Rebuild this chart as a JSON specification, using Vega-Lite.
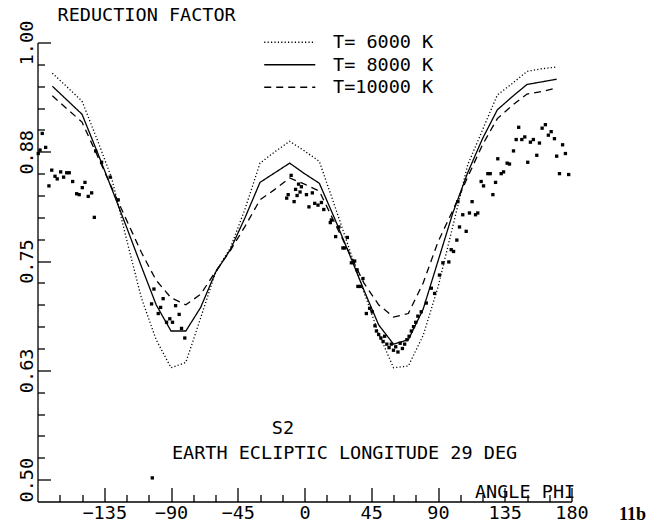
{
  "$schema": "https://vega.github.io/schema/vega-lite/v6.json",
  "width": 534,
  "height": 459,
  "autosize": "none",
  "padding": {"left": 37.5, "top": 42.5, "right": 86.5, "bottom": 23.5},
  "background": "white",
  "config": {
    "view": {"stroke": null},
    "font": "DejaVu Sans Mono",
    "axis": {"domainColor": "black", "tickColor": "black", "domainWidth": 1.3, "tickWidth": 1.3, "zindex": 1, "grid": false, "labelColor": "black", "title": null}
  },
  "resolve": {"axis": {"x": "independent", "y": "independent"}},
  "data": {
    "values": [
      {"kind": "curve", "T": "T= 6000 K", "phi": -170, "f": 0.965}, {"kind": "curve", "T": "T= 6000 K", "phi": -160, "f": 0.949}, {"kind": "curve", "T": "T= 6000 K", "phi": -150, "f": 0.933}, {"kind": "curve", "T": "T= 6000 K", "phi": -140, "f": 0.890}, {"kind": "curve", "T": "T= 6000 K", "phi": -130, "f": 0.845}, {"kind": "curve", "T": "T= 6000 K", "phi": -120, "f": 0.775}, {"kind": "curve", "T": "T= 6000 K", "phi": -110, "f": 0.708}, {"kind": "curve", "T": "T= 6000 K", "phi": -100, "f": 0.660}, {"kind": "curve", "T": "T= 6000 K", "phi": -90, "f": 0.628}, {"kind": "curve", "T": "T= 6000 K", "phi": -80, "f": 0.634}, {"kind": "curve", "T": "T= 6000 K", "phi": -70, "f": 0.685}, {"kind": "curve", "T": "T= 6000 K", "phi": -60, "f": 0.737}, {"kind": "curve", "T": "T= 6000 K", "phi": -50, "f": 0.765}, {"kind": "curve", "T": "T= 6000 K", "phi": -40, "f": 0.810}, {"kind": "curve", "T": "T= 6000 K", "phi": -30, "f": 0.862}, {"kind": "curve", "T": "T= 6000 K", "phi": -20, "f": 0.875}, {"kind": "curve", "T": "T= 6000 K", "phi": -10, "f": 0.887}, {"kind": "curve", "T": "T= 6000 K", "phi": 0, "f": 0.876}, {"kind": "curve", "T": "T= 6000 K", "phi": 10, "f": 0.864}, {"kind": "curve", "T": "T= 6000 K", "phi": 20, "f": 0.815}, {"kind": "curve", "T": "T= 6000 K", "phi": 30, "f": 0.765}, {"kind": "curve", "T": "T= 6000 K", "phi": 40, "f": 0.715}, {"kind": "curve", "T": "T= 6000 K", "phi": 50, "f": 0.667}, {"kind": "curve", "T": "T= 6000 K", "phi": 60, "f": 0.628}, {"kind": "curve", "T": "T= 6000 K", "phi": 70, "f": 0.630}, {"kind": "curve", "T": "T= 6000 K", "phi": 80, "f": 0.665}, {"kind": "curve", "T": "T= 6000 K", "phi": 90, "f": 0.720}, {"kind": "curve", "T": "T= 6000 K", "phi": 100, "f": 0.790}, {"kind": "curve", "T": "T= 6000 K", "phi": 110, "f": 0.860}, {"kind": "curve", "T": "T= 6000 K", "phi": 120, "f": 0.900}, {"kind": "curve", "T": "T= 6000 K", "phi": 130, "f": 0.940}, {"kind": "curve", "T": "T= 6000 K", "phi": 140, "f": 0.953}, {"kind": "curve", "T": "T= 6000 K", "phi": 150, "f": 0.967}, {"kind": "curve", "T": "T= 6000 K", "phi": 160, "f": 0.970}, {"kind": "curve", "T": "T= 6000 K", "phi": 170, "f": 0.972},
      {"kind": "curve", "T": "T= 8000 K", "phi": -170, "f": 0.950}, {"kind": "curve", "T": "T= 8000 K", "phi": -160, "f": 0.934}, {"kind": "curve", "T": "T= 8000 K", "phi": -150, "f": 0.918}, {"kind": "curve", "T": "T= 8000 K", "phi": -140, "f": 0.876}, {"kind": "curve", "T": "T= 8000 K", "phi": -130, "f": 0.833}, {"kind": "curve", "T": "T= 8000 K", "phi": -120, "f": 0.789}, {"kind": "curve", "T": "T= 8000 K", "phi": -110, "f": 0.744}, {"kind": "curve", "T": "T= 8000 K", "phi": -100, "f": 0.700}, {"kind": "curve", "T": "T= 8000 K", "phi": -90, "f": 0.670}, {"kind": "curve", "T": "T= 8000 K", "phi": -80, "f": 0.670}, {"kind": "curve", "T": "T= 8000 K", "phi": -70, "f": 0.697}, {"kind": "curve", "T": "T= 8000 K", "phi": -60, "f": 0.737}, {"kind": "curve", "T": "T= 8000 K", "phi": -50, "f": 0.763}, {"kind": "curve", "T": "T= 8000 K", "phi": -40, "f": 0.800}, {"kind": "curve", "T": "T= 8000 K", "phi": -30, "f": 0.840}, {"kind": "curve", "T": "T= 8000 K", "phi": -20, "f": 0.851}, {"kind": "curve", "T": "T= 8000 K", "phi": -10, "f": 0.862}, {"kind": "curve", "T": "T= 8000 K", "phi": 0, "f": 0.850}, {"kind": "curve", "T": "T= 8000 K", "phi": 10, "f": 0.839}, {"kind": "curve", "T": "T= 8000 K", "phi": 20, "f": 0.800}, {"kind": "curve", "T": "T= 8000 K", "phi": 30, "f": 0.759}, {"kind": "curve", "T": "T= 8000 K", "phi": 40, "f": 0.717}, {"kind": "curve", "T": "T= 8000 K", "phi": 50, "f": 0.677}, {"kind": "curve", "T": "T= 8000 K", "phi": 60, "f": 0.655}, {"kind": "curve", "T": "T= 8000 K", "phi": 70, "f": 0.660}, {"kind": "curve", "T": "T= 8000 K", "phi": 80, "f": 0.695}, {"kind": "curve", "T": "T= 8000 K", "phi": 90, "f": 0.750}, {"kind": "curve", "T": "T= 8000 K", "phi": 100, "f": 0.805}, {"kind": "curve", "T": "T= 8000 K", "phi": 110, "f": 0.851}, {"kind": "curve", "T": "T= 8000 K", "phi": 120, "f": 0.890}, {"kind": "curve", "T": "T= 8000 K", "phi": 130, "f": 0.923}, {"kind": "curve", "T": "T= 8000 K", "phi": 140, "f": 0.938}, {"kind": "curve", "T": "T= 8000 K", "phi": 150, "f": 0.952}, {"kind": "curve", "T": "T= 8000 K", "phi": 160, "f": 0.955}, {"kind": "curve", "T": "T= 8000 K", "phi": 170, "f": 0.958},
      {"kind": "curve", "T": "T=10000 K", "phi": -170, "f": 0.939}, {"kind": "curve", "T": "T=10000 K", "phi": -160, "f": 0.924}, {"kind": "curve", "T": "T=10000 K", "phi": -150, "f": 0.909}, {"kind": "curve", "T": "T=10000 K", "phi": -140, "f": 0.872}, {"kind": "curve", "T": "T=10000 K", "phi": -130, "f": 0.834}, {"kind": "curve", "T": "T=10000 K", "phi": -120, "f": 0.797}, {"kind": "curve", "T": "T=10000 K", "phi": -110, "f": 0.760}, {"kind": "curve", "T": "T=10000 K", "phi": -100, "f": 0.728}, {"kind": "curve", "T": "T=10000 K", "phi": -90, "f": 0.708}, {"kind": "curve", "T": "T=10000 K", "phi": -80, "f": 0.700}, {"kind": "curve", "T": "T=10000 K", "phi": -70, "f": 0.712}, {"kind": "curve", "T": "T=10000 K", "phi": -60, "f": 0.738}, {"kind": "curve", "T": "T=10000 K", "phi": -50, "f": 0.762}, {"kind": "curve", "T": "T=10000 K", "phi": -40, "f": 0.790}, {"kind": "curve", "T": "T=10000 K", "phi": -30, "f": 0.820}, {"kind": "curve", "T": "T=10000 K", "phi": -20, "f": 0.832}, {"kind": "curve", "T": "T=10000 K", "phi": -10, "f": 0.845}, {"kind": "curve", "T": "T=10000 K", "phi": 0, "f": 0.838}, {"kind": "curve", "T": "T=10000 K", "phi": 10, "f": 0.830}, {"kind": "curve", "T": "T=10000 K", "phi": 20, "f": 0.795}, {"kind": "curve", "T": "T=10000 K", "phi": 30, "f": 0.760}, {"kind": "curve", "T": "T=10000 K", "phi": 40, "f": 0.725}, {"kind": "curve", "T": "T=10000 K", "phi": 50, "f": 0.700}, {"kind": "curve", "T": "T=10000 K", "phi": 60, "f": 0.686}, {"kind": "curve", "T": "T=10000 K", "phi": 70, "f": 0.690}, {"kind": "curve", "T": "T=10000 K", "phi": 80, "f": 0.725}, {"kind": "curve", "T": "T=10000 K", "phi": 90, "f": 0.772}, {"kind": "curve", "T": "T=10000 K", "phi": 100, "f": 0.808}, {"kind": "curve", "T": "T=10000 K", "phi": 110, "f": 0.846}, {"kind": "curve", "T": "T=10000 K", "phi": 120, "f": 0.883}, {"kind": "curve", "T": "T=10000 K", "phi": 130, "f": 0.913}, {"kind": "curve", "T": "T=10000 K", "phi": 140, "f": 0.928}, {"kind": "curve", "T": "T=10000 K", "phi": 150, "f": 0.941}, {"kind": "curve", "T": "T=10000 K", "phi": 160, "f": 0.944}, {"kind": "curve", "T": "T=10000 K", "phi": 170, "f": 0.948},
      {"kind": "obs", "phi": -179.5, "f": 0.873}, {"kind": "obs", "phi": -178.3, "f": 0.877}, {"kind": "obs", "phi": -176.8, "f": 0.896}, {"kind": "obs", "phi": -174.5, "f": 0.880}, {"kind": "obs", "phi": -172.3, "f": 0.836}, {"kind": "obs", "phi": -170.4, "f": 0.854}, {"kind": "obs", "phi": -168.2, "f": 0.847}, {"kind": "obs", "phi": -166.7, "f": 0.844}, {"kind": "obs", "phi": -164.4, "f": 0.852}, {"kind": "obs", "phi": -162.4, "f": 0.846}, {"kind": "obs", "phi": -160.3, "f": 0.851}, {"kind": "obs", "phi": -158.6, "f": 0.851}, {"kind": "obs", "phi": -156.3, "f": 0.841}, {"kind": "obs", "phi": -153.6, "f": 0.827}, {"kind": "obs", "phi": -151.9, "f": 0.826}, {"kind": "obs", "phi": -149.8, "f": 0.834}, {"kind": "obs", "phi": -148.0, "f": 0.840}, {"kind": "obs", "phi": -145.8, "f": 0.824}, {"kind": "obs", "phi": -143.5, "f": 0.828}, {"kind": "obs", "phi": -141.7, "f": 0.800}, {"kind": "obs", "phi": -140.8, "f": 0.876}, {"kind": "obs", "phi": -136.8, "f": 0.863}, {"kind": "obs", "phi": -131.0, "f": 0.846}, {"kind": "obs", "phi": -125.6, "f": 0.820},
      {"kind": "obs", "phi": -103.1, "f": 0.701}, {"kind": "obs", "phi": -101.5, "f": 0.718}, {"kind": "obs", "phi": -98.6, "f": 0.690}, {"kind": "obs", "phi": -97.0, "f": 0.697}, {"kind": "obs", "phi": -95.3, "f": 0.707}, {"kind": "obs", "phi": -93.0, "f": 0.680}, {"kind": "obs", "phi": -90.8, "f": 0.684}, {"kind": "obs", "phi": -89.0, "f": 0.680}, {"kind": "obs", "phi": -86.9, "f": 0.699}, {"kind": "obs", "phi": -84.5, "f": 0.689}, {"kind": "obs", "phi": -82.9, "f": 0.673}, {"kind": "obs", "phi": -80.7, "f": 0.662}, {"kind": "obs", "phi": -102.6, "f": 0.502},
      {"kind": "obs", "phi": -12.0, "f": 0.822}, {"kind": "obs", "phi": -11.0, "f": 0.826}, {"kind": "obs", "phi": -9.0, "f": 0.848}, {"kind": "obs", "phi": -7.0, "f": 0.818}, {"kind": "obs", "phi": -6.0, "f": 0.832}, {"kind": "obs", "phi": -5.0, "f": 0.825}, {"kind": "obs", "phi": -4.0, "f": 0.838}, {"kind": "obs", "phi": -3.0, "f": 0.829},
      {"kind": "obs", "phi": -2.1, "f": 0.835}, {"kind": "obs", "phi": 1.3, "f": 0.826}, {"kind": "obs", "phi": 3.0, "f": 0.812}, {"kind": "obs", "phi": 5.3, "f": 0.828}, {"kind": "obs", "phi": 6.9, "f": 0.816}, {"kind": "obs", "phi": 9.1, "f": 0.814}, {"kind": "obs", "phi": 11.4, "f": 0.817}, {"kind": "obs", "phi": 13.0, "f": 0.809}, {"kind": "obs", "phi": 17.4, "f": 0.794}, {"kind": "obs", "phi": 18.1, "f": 0.797}, {"kind": "obs", "phi": 21.0, "f": 0.778}, {"kind": "obs", "phi": 23.2, "f": 0.789}, {"kind": "obs", "phi": 25.9, "f": 0.765}, {"kind": "obs", "phi": 27.0, "f": 0.765}, {"kind": "obs", "phi": 28.9, "f": 0.777}, {"kind": "obs", "phi": 31.6, "f": 0.748}, {"kind": "obs", "phi": 33.8, "f": 0.750}, {"kind": "obs", "phi": 35.4, "f": 0.740}, {"kind": "obs", "phi": 36.0, "f": 0.721}, {"kind": "obs", "phi": 37.6, "f": 0.721}, {"kind": "obs", "phi": 39.4, "f": 0.730}, {"kind": "obs", "phi": 41.7, "f": 0.690}, {"kind": "obs", "phi": 43.9, "f": 0.696}, {"kind": "obs", "phi": 45.7, "f": 0.692},
      {"kind": "obs", "phi": 47.5, "f": 0.676}, {"kind": "obs", "phi": 48.5, "f": 0.670}, {"kind": "obs", "phi": 50.0, "f": 0.666}, {"kind": "obs", "phi": 51.5, "f": 0.662}, {"kind": "obs", "phi": 53.0, "f": 0.658}, {"kind": "obs", "phi": 54.0, "f": 0.664}, {"kind": "obs", "phi": 55.5, "f": 0.655}, {"kind": "obs", "phi": 57.0, "f": 0.651}, {"kind": "obs", "phi": 58.5, "f": 0.655}, {"kind": "obs", "phi": 60.0, "f": 0.648}, {"kind": "obs", "phi": 61.5, "f": 0.652}, {"kind": "obs", "phi": 63.0, "f": 0.646}, {"kind": "obs", "phi": 64.5, "f": 0.656}, {"kind": "obs", "phi": 66.0, "f": 0.650}, {"kind": "obs", "phi": 67.5, "f": 0.655}, {"kind": "obs", "phi": 69.0, "f": 0.660}, {"kind": "obs", "phi": 70.5, "f": 0.664}, {"kind": "obs", "phi": 72.0, "f": 0.670}, {"kind": "obs", "phi": 73.5, "f": 0.675}, {"kind": "obs", "phi": 75.0, "f": 0.680},
      {"kind": "obs", "phi": 76.4, "f": 0.687}, {"kind": "obs", "phi": 78.7, "f": 0.692}, {"kind": "obs", "phi": 82.1, "f": 0.702}, {"kind": "obs", "phi": 85.5, "f": 0.719}, {"kind": "obs", "phi": 87.7, "f": 0.713}, {"kind": "obs", "phi": 91.0, "f": 0.734}, {"kind": "obs", "phi": 93.3, "f": 0.748}, {"kind": "obs", "phi": 97.3, "f": 0.749}, {"kind": "obs", "phi": 98.9, "f": 0.763}, {"kind": "obs", "phi": 100.5, "f": 0.761}, {"kind": "obs", "phi": 102.7, "f": 0.774}, {"kind": "obs", "phi": 103.4, "f": 0.818}, {"kind": "obs", "phi": 104.5, "f": 0.789}, {"kind": "obs", "phi": 106.7, "f": 0.803}, {"kind": "obs", "phi": 109.0, "f": 0.784}, {"kind": "obs", "phi": 111.2, "f": 0.805}, {"kind": "obs", "phi": 113.0, "f": 0.818}, {"kind": "obs", "phi": 115.3, "f": 0.803}, {"kind": "obs", "phi": 116.8, "f": 0.805}, {"kind": "obs", "phi": 119.1, "f": 0.841}, {"kind": "obs", "phi": 120.7, "f": 0.836}, {"kind": "obs", "phi": 123.6, "f": 0.850}, {"kind": "obs", "phi": 125.2, "f": 0.850}, {"kind": "obs", "phi": 127.0, "f": 0.826}, {"kind": "obs", "phi": 128.8, "f": 0.840}, {"kind": "obs", "phi": 130.3, "f": 0.867},
      {"kind": "obs", "phi": 132.6, "f": 0.850}, {"kind": "obs", "phi": 134.2, "f": 0.852}, {"kind": "obs", "phi": 136.6, "f": 0.862}, {"kind": "obs", "phi": 138.2, "f": 0.861}, {"kind": "obs", "phi": 140.9, "f": 0.876}, {"kind": "obs", "phi": 142.7, "f": 0.889}, {"kind": "obs", "phi": 144.4, "f": 0.903}, {"kind": "obs", "phi": 146.5, "f": 0.889}, {"kind": "obs", "phi": 148.5, "f": 0.892}, {"kind": "obs", "phi": 150.5, "f": 0.863}, {"kind": "obs", "phi": 152.3, "f": 0.886}, {"kind": "obs", "phi": 154.3, "f": 0.889}, {"kind": "obs", "phi": 156.6, "f": 0.871}, {"kind": "obs", "phi": 158.4, "f": 0.885}, {"kind": "obs", "phi": 160.2, "f": 0.902}, {"kind": "obs", "phi": 162.4, "f": 0.906}, {"kind": "obs", "phi": 164.4, "f": 0.894}, {"kind": "obs", "phi": 166.3, "f": 0.898}, {"kind": "obs", "phi": 168.5, "f": 0.890}, {"kind": "obs", "phi": 170.0, "f": 0.870}, {"kind": "obs", "phi": 171.9, "f": 0.850}, {"kind": "obs", "phi": 174.0, "f": 0.883}, {"kind": "obs", "phi": 175.9, "f": 0.873}, {"kind": "obs", "phi": 178.1, "f": 0.849},
      {"kind": "note", "text": "S2", "phi": -22, "f": 0.559, "anchor": "left"},
      {"kind": "note", "text": "EARTH ECLIPTIC LONGITUDE 29 DEG", "phi": -89.4, "f": 0.531, "anchor": "left"},
      {"kind": "note", "text": "REDUCTION FACTOR", "phi": -166.5, "f": 1.032, "anchor": "left"},
      {"kind": "noteR", "text": "ANGLE PHI", "phi": 182.5, "f": 0.4855},
      {"kind": "tag", "text": "11b", "phi": 212, "f": 0.46}
    ]
  },
  "layer": [
    {
      "transform": [{"filter": "datum.kind === 'curve'"}],
      "mark": {"type": "line", "color": "black", "strokeWidth": 1.3},
      "encoding": {
        "x": {
          "field": "phi", "type": "quantitative",
          "scale": {"domain": [-180, 180], "nice": false, "zero": false},
          "axis": {
            "orient": "bottom", "offset": -7, "title": null,
            "values": [-165, -150, -120, -105, -75, -60, -30, -15, 15, 30, 60, 75, 105, 120, 150, 165],
            "tickSize": 7, "domain": false, "labels": false
          }
        },
        "y": {
          "field": "f", "type": "quantitative",
          "scale": {"domain": [0.475, 1.0], "nice": false, "zero": false},
          "axis": {
            "orient": "left", "offset": -7, "title": null,
            "values": [0.525, 0.55, 0.575, 0.6, 0.65, 0.675, 0.7, 0.725, 0.775, 0.8, 0.825, 0.85, 0.9, 0.925, 0.95, 0.975],
            "tickSize": 7, "domain": false, "labels": false
          }
        },
        "strokeDash": {
          "field": "T", "type": "nominal",
          "scale": {"domain": ["T= 6000 K", "T= 8000 K", "T=10000 K"], "range": [[1.2, 2.2], [1, 0], [7, 5]]},
          "legend": {
            "orient": "none", "legendX": 243, "legendY": -9.5, "title": null,
            "symbolType": "M-4,0H4", "symbolSize": 163, "symbolStrokeWidth": 1.3, "symbolStrokeColor": "black",
            "labelFont": "DejaVu Sans Mono", "labelFontSize": 18.5, "labelColor": "black",
            "labelOffset": 34, "rowPadding": 3.5, "padding": 0
          }
        }
      }
    },
    {
      "transform": [{"filter": "datum.kind === 'obs'"}],
      "mark": {"type": "square", "size": 11, "color": "black", "filled": true, "opacity": 1},
      "encoding": {
        "x": {
          "field": "phi", "type": "quantitative",
          "axis": {
            "orient": "bottom", "offset": -14, "title": null,
            "values": [-135, -90, -45, 0, 45, 90, 135, 180],
            "tickSize": 14, "domain": false,
            "labelFont": "DejaVu Sans Mono", "labelFontSize": 18.5,
            "labelPadding": 2, "labelFlush": false, "labelOverlap": false
          }
        },
        "y": {
          "field": "f", "type": "quantitative",
          "axis": {
            "orient": "left", "offset": -13, "title": null,
            "values": [0.5, 0.625, 0.75, 0.875, 1.0],
            "tickSize": 13, "domain": false,
            "labelExpr": "format(datum.value, '.2f')",
            "labelFont": "DejaVu Sans Mono", "labelFontSize": 18.5,
            "labelAngle": 270, "labelAlign": "center", "labelBaseline": "alphabetic",
            "labelPadding": 5.5, "labelFlush": false, "labelOverlap": false
          }
        }
      }
    },
    {
      "transform": [{"filter": "datum.kind === 'note'"}],
      "mark": {"type": "text", "font": "DejaVu Sans Mono", "fontSize": 18.5, "color": "black", "align": "left", "baseline": "middle"},
      "encoding": {
        "x": {
          "field": "phi", "type": "quantitative",
          "axis": {"orient": "bottom", "domain": true, "ticks": false, "labels": false, "title": null}
        },
        "y": {
          "field": "f", "type": "quantitative",
          "axis": {"orient": "left", "domain": true, "ticks": false, "labels": false, "title": null}
        },
        "text": {"field": "text"}
      }
    },
    {
      "transform": [{"filter": "datum.kind === 'noteR'"}],
      "mark": {"type": "text", "font": "DejaVu Sans Mono", "fontSize": 18.5, "color": "black", "align": "right", "baseline": "middle"},
      "encoding": {
        "x": {"field": "phi", "type": "quantitative", "axis": null},
        "y": {"field": "f", "type": "quantitative", "axis": null},
        "text": {"field": "text"}
      }
    },
    {
      "transform": [{"filter": "datum.kind === 'tag'"}],
      "mark": {"type": "text", "font": "Liberation Serif", "fontWeight": "bold", "fontSize": 18, "color": "black", "align": "left", "baseline": "middle"},
      "encoding": {
        "x": {"field": "phi", "type": "quantitative", "axis": null},
        "y": {"field": "f", "type": "quantitative", "axis": null},
        "text": {"field": "text"}
      }
    }
  ]
}
